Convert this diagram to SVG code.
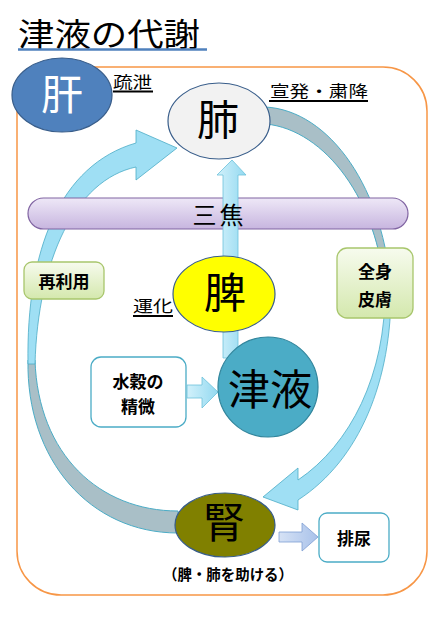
<svg xmlns="http://www.w3.org/2000/svg" width="439" height="618" viewBox="0 0 439 618">
<defs>
<linearGradient id="gBlue" x1="0" y1="0" x2="0" y2="1"><stop offset="0" stop-color="#C4EEFB"/><stop offset="1" stop-color="#8FD8F0"/></linearGradient>
<linearGradient id="gBlueH" x1="0" y1="0" x2="1" y2="0"><stop offset="0" stop-color="#D2F1FB"/><stop offset="1" stop-color="#93D9F0"/></linearGradient>
<linearGradient id="gPurple" x1="0" y1="0" x2="0" y2="1"><stop offset="0" stop-color="#EEE8F7"/><stop offset="1" stop-color="#C7B5DF"/></linearGradient>
<linearGradient id="gGreen" x1="0" y1="0" x2="0" y2="1"><stop offset="0" stop-color="#F7FBEE"/><stop offset="1" stop-color="#D4E8AD"/></linearGradient>
<linearGradient id="gLav" x1="0" y1="0" x2="1" y2="0"><stop offset="0" stop-color="#D6E2F5"/><stop offset="1" stop-color="#A9C2EA"/></linearGradient>
<style>
.jp{font-family:"Noto Sans CJK JP","Noto Sans CJK SC",sans-serif;fill:#000}
.big{font-size:42px;text-anchor:middle}
.lbl{font-size:16px}
.box{font-size:17px;font-weight:bold;text-anchor:middle}
.ul{stroke:#000;stroke-width:2}
.back{fill:#A9BFC7;stroke:#4BACC6;stroke-width:1}
.front{fill:#9FDFF4;stroke:#4BACC6;stroke-width:0.8}
.node{stroke:#385D8A;stroke-width:1.2}
.rbox{fill:#fff;stroke:#4BACC6;stroke-width:1.3}
.gbox{fill:url(#gGreen);stroke:#A8C66C;stroke-width:1.3}
</style>
</defs>
<rect width="439" height="618" fill="#fff"/>

<g id="title">
<text class="jp" x="18" y="46" font-size="32" textLength="182" lengthAdjust="spacingAndGlyphs">津液の代謝</text>
<line x1="18" y1="49.5" x2="207" y2="49.5" stroke="#4F81BD" stroke-width="2.5"/>
</g>

<rect id="frame" x="17" y="67" width="410" height="528" rx="44" fill="none" stroke="#F79646" stroke-width="1.5"/>

<g id="connectors">
<path class="back" d="M265 107 C330 110 385 190 391 292 L385 292 C378 200 325 130 266 124 Z"/>
<path class="front" d="M391 288 C392 380 360 460 298 500 L298 510 L263 497 L298 468 L298 480 C350 445 386 375 385 288 Z"/>
<path class="back" d="M178 533 C90 533 26 460 28 360 L35 360 C38 455 100 511 178 511 Z"/>
<path class="front" d="M28 364 C26 250 60 165 136 143 L136 130 L177 148 L136 180 L136 167 C75 180 38 260 35 364 Z"/>
</g>

<g id="sansho">
<rect x="28" y="198" width="380" height="31" rx="15.5" fill="url(#gPurple)" stroke="#8064A2" stroke-width="1.2"/>
</g>

<g id="arrow-up">
<path d="M223 358 L223 175 L217 175 L232 160 L246 175 L238 175 L238 358 Z" fill="url(#gBlueH)" stroke="#6CC2DA" stroke-width="0.8"/>
</g>
<text id="sansho-label" class="jp" x="218" y="224" font-size="24" text-anchor="middle" textLength="51" lengthAdjust="spacing">三焦</text>

<g id="kan">
<ellipse cx="62" cy="95" rx="50" ry="37" fill="#4F81BD" class="node"/>
<text class="jp big" x="62" y="110" style="fill:#fff">肝</text>
</g>
<g id="label-sosetsu">
<text class="jp lbl" x="113" y="88" textLength="39" lengthAdjust="spacingAndGlyphs">疏泄</text>
<line class="ul" x1="113" y1="91.5" x2="153" y2="91.5"/>
</g>

<g id="hai">
<ellipse cx="219" cy="121" rx="51" ry="38" fill="#F2F2F2" class="node"/>
<text class="jp big" x="218" y="135" font-size="40">肺</text>
</g>
<g id="label-senpatsu">
<text class="jp lbl" x="270" y="97" textLength="98" lengthAdjust="spacingAndGlyphs">宣発・粛降</text>
<line class="ul" x1="269" y1="101" x2="368" y2="101"/>
</g>

<g id="saiRiyou">
<rect class="gbox" x="24" y="262" width="80" height="37" rx="8"/>
<text class="jp box" x="64" y="288" font-size="18">再利用</text>
</g>

<g id="zenshin">
<rect class="gbox" x="337" y="248" width="76" height="70" rx="10"/>
<text class="jp box" x="375" y="278">全身</text>
<text class="jp box" x="375" y="306">皮膚</text>
</g>

<g id="hi">
<ellipse cx="224" cy="294" rx="51" ry="38" fill="#FFFF00" class="node"/>
<text class="jp big" x="225" y="308">脾</text>
</g>
<g id="label-unka">
<text class="jp lbl" x="133" y="312" textLength="40" lengthAdjust="spacingAndGlyphs">運化</text>
<line class="ul" x1="133" y1="316" x2="173" y2="316"/>
</g>

<g id="suikoku">
<rect class="rbox" x="91" y="357" width="95" height="70" rx="10"/>
<text class="jp box" x="138" y="388">水穀の</text>
<text class="jp box" x="138" y="413">精微</text>
</g>
<g id="arrow-suikoku">
<path d="M187 385 L202 385 L202 377 L218 392 L202 408 L202 398 L187 398 Z" fill="url(#gBlueH)" stroke="#6CC2DA" stroke-width="0.8"/>
</g>

<g id="shineki">
<circle cx="268" cy="387" r="50" fill="#4BACC6" stroke="#31859C" stroke-width="1.2"/>
<text class="jp big" x="270" y="405">津液</text>
</g>

<g id="jin">
<ellipse cx="225" cy="525" rx="50" ry="32" fill="#808000" class="node"/>
<text class="jp big" x="224" y="538">腎</text>
</g>
<text class="jp" x="228" y="580" font-size="15" font-weight="bold" text-anchor="middle" textLength="130" lengthAdjust="spacingAndGlyphs">（脾・肺を助ける）</text>

<g id="arrow-hainyou">
<path d="M279 532 L302 532 L302 523 L318 537 L302 551 L302 542 L279 542 Z" fill="url(#gLav)" stroke="#7F9ED3" stroke-width="0.8"/>
</g>
<g id="hainyou">
<rect class="rbox" x="319" y="513" width="70" height="49" rx="8"/>
<text class="jp box" x="354" y="545">排尿</text>
</g>
</svg>
